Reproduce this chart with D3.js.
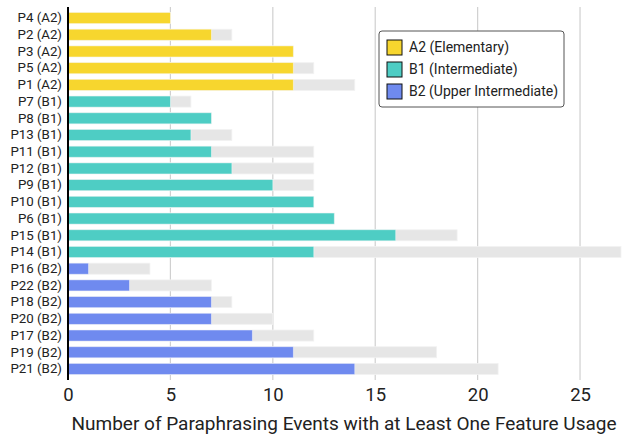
<!DOCTYPE html>
<html>
<head>
<meta charset="utf-8">
<script src="https://cdn.jsdelivr.net/npm/d3@7"></script>
<style>
  body { margin: 0; background: #fff; }
  text { font-family: Roboto, "Open Sans", sans-serif; fill: #222; }
</style>
</head>
<body>
<div id="chart"></div>
<script>
  const participants = ['P4 (A2)', 'P2 (A2)', 'P3 (A2)', 'P5 (A2)', 'P1 (A2)',
    'P7 (B1)', 'P8 (B1)', 'P13 (B1)', 'P11 (B1)', 'P12 (B1)', 'P9 (B1)', 'P10 (B1)',
    'P6 (B1)', 'P15 (B1)', 'P14 (B1)',
    'P16 (B2)', 'P22 (B2)', 'P18 (B2)', 'P20 (B2)', 'P17 (B2)', 'P19 (B2)', 'P21 (B2)'];
  const levels = ['A2', 'A2', 'A2', 'A2', 'A2',
    'B1', 'B1', 'B1', 'B1', 'B1', 'B1', 'B1', 'B1', 'B1', 'B1',
    'B2', 'B2', 'B2', 'B2', 'B2', 'B2', 'B2'];
  const featureEvents = [5, 7, 11, 11, 11, 5, 7, 6, 7, 8, 10, 12, 13, 16, 12, 1, 3, 7, 7, 9, 11, 14];
  const totalEvents = [5, 8, 11, 12, 14, 6, 7, 8, 12, 12, 12, 12, 13, 19, 27, 4, 7, 8, 10, 12, 18, 21];
  const xTicks = [0, 5, 10, 15, 20, 25];
  const legendLabels = ['A2 (Elementary)', 'B1 (Intermediate)', 'B2 (Upper Intermediate)'];
  const levelKeys = ['A2', 'B1', 'B2'];
  const levelColors = ['#f7d62e', '#4ecdc4', '#6f8aef'];

  const w = 626, h = 436;
  const margin = { left: 68, right: 5, top: 7, bottom: 56 };

  const rows = participants.map((p, i) => ({
    name: p, level: levels[i], used: featureEvents[i], total: totalEvents[i]
  }));

  const x = d3.scaleLinear().domain([0, 27]).range([margin.left, w - margin.right]);
  const y = d3.scaleBand().domain(participants)
    .range([margin.top, h - margin.bottom])
    .paddingInner(0.34).paddingOuter(0.33);
  const color = d3.scaleOrdinal().domain(levelKeys).range(levelColors);

  const svg = d3.select('#chart').append('svg')
    .attr('width', w)
    .attr('height', h);

  // vertical grid
  svg.append('g').selectAll('line')
    .data(xTicks.filter(t => t > 0))
    .enter().append('line')
      .attr('x1', d => x(d)).attr('x2', d => x(d))
      .attr('y1', margin.top).attr('y2', h - margin.bottom)
      .style('stroke', '#d0d0d0')
      .style('stroke-width', 1.2);

  // grey total bars
  svg.append('g').selectAll('rect')
    .data(rows)
    .enter().append('rect')
      .attr('x', x(0))
      .attr('y', d => y(d.name))
      .attr('width', d => x(d.total) - x(0))
      .attr('height', y.bandwidth())
      .style('fill', '#e6e6e6')
      .style('stroke', '#f2f2f2')
      .style('stroke-width', 0.8);

  // coloured bars
  svg.append('g').selectAll('rect')
    .data(rows)
    .enter().append('rect')
      .attr('x', x(0))
      .attr('y', d => y(d.name))
      .attr('width', d => x(d.used) - x(0))
      .attr('height', y.bandwidth())
      .style('fill', d => color(d.level))
      .style('stroke', '#ffffff')
      .style('stroke-opacity', 0.5)
      .style('stroke-width', 0.8);

  // y axis
  const yAxis = svg.append('g')
    .attr('transform', 'translate(' + x(0) + ',0)')
    .call(d3.axisLeft(y).tickSize(0).tickPadding(6));
  yAxis.select('.domain').remove();
  yAxis.selectAll('text')
    .style('font-size', '13.3px')
    .style('font-family', 'Roboto, sans-serif')
    .style('fill', '#222');

  svg.append('line')
    .attr('x1', x(0)).attr('x2', x(0))
    .attr('y1', margin.top).attr('y2', h - margin.bottom)
    .style('stroke', '#000')
    .style('stroke-width', 2);

  // x axis
  const xAxis = svg.append('g')
    .attr('transform', 'translate(0,' + (h - margin.bottom) + ')')
    .call(d3.axisBottom(x).tickValues(xTicks).tickSize(0).tickPadding(8));
  xAxis.select('.domain').remove();
  xAxis.selectAll('text')
    .style('font-size', '18.5px')
    .style('font-family', 'Roboto, sans-serif')
    .style('fill', '#222');

  svg.append('text')
    .attr('x', 344)
    .attr('y', 430)
    .attr('text-anchor', 'middle')
    .style('font-size', '19px')
    .text('Number of Paraphrasing Events with at Least One Feature Usage');

  // legend
  const legend = svg.append('g').attr('transform', 'translate(379,31)');
  legend.append('rect')
    .attr('width', 185).attr('height', 76)
    .attr('rx', 3)
    .style('fill', '#fff')
    .style('stroke', '#555')
    .style('stroke-width', 1);

  const items = legend.selectAll('g.item')
    .data(legendLabels)
    .enter().append('g')
      .attr('class', 'item')
      .attr('transform', (d, i) => 'translate(8,' + (9 + i * 22) + ')');
  items.append('rect')
    .attr('width', 15).attr('height', 15)
    .style('fill', (d, i) => levelColors[i])
    .style('stroke', '#111')
    .style('stroke-width', 1);
  items.append('text')
    .attr('x', 22).attr('y', 12)
    .style('font-size', '14px')
    .text(d => d);
</script>
</body>
</html>
